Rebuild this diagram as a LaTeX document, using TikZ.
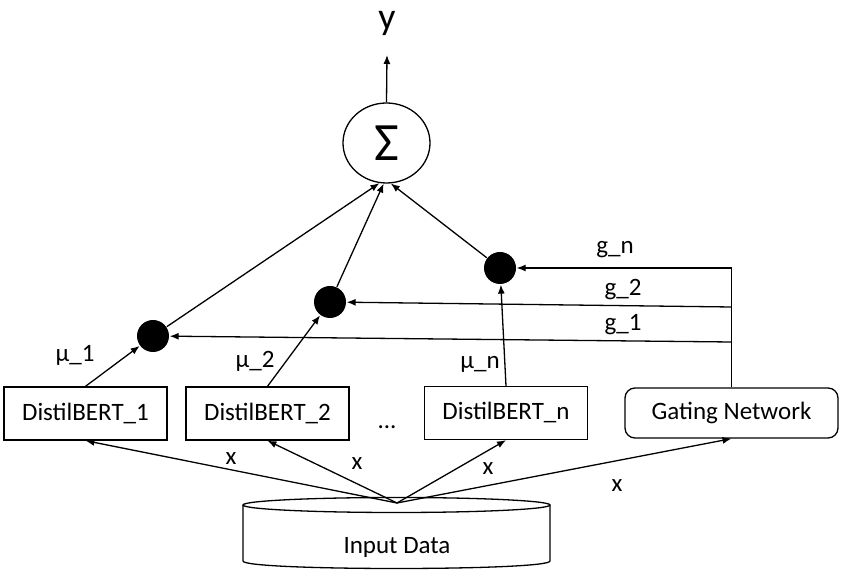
\documentclass[tikz,border=0pt]{standalone}
\usepackage{fontspec}
\setmainfont{Carlito}
\usetikzlibrary{arrows.meta}
\usetikzlibrary{shapes.geometric}
\tikzset{model/.style={draw, rectangle, minimum width=81.5pt, minimum height=26.5pt,
         inner sep=0pt, font=\fontsize{12.5}{14}\selectfont},
         gatebox/.style={model, rounded corners=5pt, minimum width=106.5pt, minimum height=25pt},
         prod/.style={circle, fill=black, minimum size=16pt, inner sep=0pt},
         sumnode/.style={draw, ellipse, minimum width=43.5pt, minimum height=40pt, inner sep=0pt},
         lbl/.style={inner sep=0pt, font=\fontsize{12.5}{14}\selectfont},
         arr/.style={-{Latex[length=4.5pt,width=3.5pt]}}}

\begin{document}
\begin{tikzpicture}[x=0.5pt,y=-0.5pt,line width=0.65pt]
\useasboundingbox (0,0) rectangle (842,571);

\node[sumnode] (sum) at (386.5,143) {\fontsize{27}{29}\selectfont Σ};
\node[lbl, font=\fontsize{19}{21}\selectfont] (yout) at (387,23) {y};
\coordinate (ytip) at (387,55);
\draw[arr] (sum.north) -- (ytip);

\node[prod] (dot1) at (153,336) {};
\node[prod] (dot2) at (330,302) {};
\node[prod] (dot3) at (500,268) {};

\node[model] (bert1) at (85.5,413.5) {DistilBERT\_1};
\node[model] (bert2) at (267.5,413.5) {DistilBERT\_2};
\node[model] (bertn) at (506,413) {DistilBERT\_n};
\node[gatebox] (gate) at (731.5,413) {Gating Network};
\node[lbl] (etc) at (387,427) {...};

% input data cylinder
\draw (396.5,505) ellipse [x radius=153.5, y radius=7.5];
\draw (243,505) -- (243,561) .. controls (243,571) and (550,571) .. (550,561) -- (550,505);
\node[lbl] (data) at (397,547) {Input Data};
\coordinate (src) at (397,503);

\draw[arr] (src) -- (bert1.south);
\draw[arr] (src) -- (bert2.south);
\draw[arr] (src) -- (bertn.south);
\draw[arr] (src) -- (gate.south);
\node[lbl] (x1) at (231,459) {x};
\node[lbl] (x2) at (357,464) {x};
\node[lbl] (x3) at (488,469) {x};
\node[lbl] (x4) at (617,486) {x};

\draw[arr] (bert1.north) -- (dot1);
\draw[arr] (bert2.north) -- (dot2);
\draw[arr] (bertn.north) -- (dot3);
\node[lbl] (mu1) at (75,355) {μ\_1};
\node[lbl] (mu2) at (255,361) {μ\_2};
\node[lbl] (mun) at (480,364) {μ\_n};

\coordinate (gn) at (731.5,268);
\coordinate (g2) at (731.5,307);
\coordinate (g1) at (731.5,342);
\draw (gate.north) -- (gn);
\draw[arr] (gn) -- (dot3);
\draw[arr] (g2) -- (dot2);
\draw[arr] (g1) -- (dot1);
\node[lbl] (gnl) at (615,250) {g\_n};
\node[lbl] (g2l) at (623,290) {g\_2};
\node[lbl] (g1l) at (623,325) {g\_1};

\draw[arr] (dot1) -- (sum.-100);
\draw[arr] (dot2) -- (sum.-94);
\draw[arr] (dot3) -- (sum.-84);
\end{tikzpicture}
\end{document}
